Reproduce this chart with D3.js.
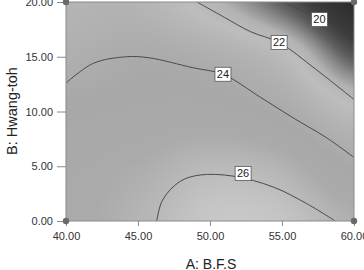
<!DOCTYPE html>
<html>
<head>
<meta charset="utf-8">
<script src="https://cdn.jsdelivr.net/npm/d3@7"></script>
<style>
  body { margin: 0; background: #fff; }
  svg { display: block; font-family: "Liberation Sans", Arial, sans-serif; }
</style>
</head>
<body>
<svg width="364" height="270"></svg>
<script>
// Factor ranges and tick values
const aTicks = [40, 45, 50, 55, 60];
const bTicks = [0, 5, 10, 15, 20];

const gridA = [40, 45, 50, 55, 60];
const gridB = [0, 5, 10, 15, 20];
const response = [
    [25.0, 25.7, 26.5, 26.4, 25.5],
    [24.9, 25.3, 25.9, 25.6, 24.2],
    [24.4, 24.6, 24.7, 24.05, 22.4],
    [23.5, 24.0, 23.6, 22.5, 19.9],
    [23.0, 23.0, 21.7, 20.0, 18.3]
];

// Contour lines, [A, B]
const contour20 = [[55.1, 20], [56.4, 19.2], [57.6, 18.4], [58.8, 16.9], [60, 15.5]];
const contour22 = [[49.1, 20], [51.0, 18.6], [52.8, 17.3], [54.8, 16.3], [57.4, 13.8], [60, 11.1]];
const contour24 = [[40, 12.6], [41.9, 14.4], [44.2, 15.0], [45.8, 14.9], [48.8, 14.0], [50.9, 13.4],
                   [53.5, 11.3], [55.8, 9.4], [58.1, 7.6], [60, 5.8]];
const contour26 = [[46.3, 0], [46.7, 1.9], [47.9, 3.6], [49.3, 4.2], [51.6, 4.1], [54.4, 3.1],
                   [56.7, 1.6], [58.7, 0]];
const contourLevels = [20, 22, 24, 26];
const labelPos = [[57.6, 18.4], [54.8, 16.3], [50.9, 13.4], [52.3, 4.35]];

var svg = d3.select("svg"),
    margin = {top: 2, right: 10, bottom: 49, left: 66},
    width = +svg.attr("width") - margin.left - margin.right,
    height = +svg.attr("height") - margin.top - margin.bottom,
    g = svg.append("g").attr("transform", "translate(" + margin.left + "," + margin.top + ")");

var x = d3.scaleLinear().domain([40, 60]).range([0, width]),
    y = d3.scaleLinear().domain([0, 20]).range([height, 0]);

// Grey map of the response (design-expert style, not monotonic)
var grey = d3.scaleLinear()
    .domain([18.3, 19.3, 20.0, 20.7, 21.4, 22.2, 23.2, 24.3, 25.2, 26.0, 26.8])
    .range(["#2c2c2c", "#3e3e3e", "#5c5c5c", "#8a8a8a", "#b2b2b2", "#bdbdbd",
            "#b2b2b2", "#a8a8a8", "#aaaaaa", "#bbbbbb", "#cecece"])
    .clamp(true);

// Cubic through the grid values
function cubic(p0, p1, p2, p3, t) {
    return p1 + 0.5 * t * (p2 - p0 + t * (2 * p0 - 5 * p1 + 4 * p2 - p3 + t * (3 * (p1 - p2) + p3 - p0)));
}
function sample(a, b) {
    var fx = (a - gridA[0]) / (gridA[1] - gridA[0]),
        fy = (b - gridB[0]) / (gridB[1] - gridB[0]),
        ix = Math.min(Math.floor(fx), gridA.length - 2),
        iy = Math.min(Math.floor(fy), gridB.length - 2),
        tx = fx - ix, ty = fy - iy;
    var cl = (v, n) => Math.max(0, Math.min(n - 1, v));
    var rows = [];
    for (var j = -1; j <= 2; j++) {
        var r = response[cl(iy + j, gridB.length)];
        rows.push(cubic(r[cl(ix - 1, 5)], r[cl(ix, 5)], r[cl(ix + 1, 5)], r[cl(ix + 2, 5)], tx));
    }
    return cubic(rows[0], rows[1], rows[2], rows[3], ty);
}

var canvas = document.createElement("canvas");
canvas.width = width; canvas.height = height;
var ctx = canvas.getContext("2d"),
    img = ctx.createImageData(width, height);
for (var py = 0; py < height; py++) {
    for (var px = 0; px < width; px++) {
        var c = d3.rgb(grey(sample(x.invert(px + 0.5), y.invert(py + 0.5)))),
            k = (py * width + px) * 4;
        img.data[k] = c.r; img.data[k + 1] = c.g; img.data[k + 2] = c.b; img.data[k + 3] = 255;
    }
}
ctx.putImageData(img, 0, 0);

g.append("image")
    .attr("width", width)
    .attr("height", height)
    .attr("href", canvas.toDataURL());

g.append("clipPath").attr("id", "plot")
    .append("rect").attr("width", width).attr("height", height);

// Contour lines
var line = d3.line()
    .curve(d3.curveCatmullRom)
    .x(function(d) { return x(d[0]); })
    .y(function(d) { return y(d[1]); });

g.append("g")
    .attr("clip-path", "url(#plot)")
    .selectAll("path")
    .data([contour20, contour22, contour24, contour26])
    .enter().append("path")
    .attr("d", line)
    .attr("fill", "none")
    .attr("stroke", "#4a4a4a")
    .attr("stroke-width", 1);

// Frame
g.append("rect")
    .attr("width", width)
    .attr("height", height)
    .attr("fill", "none")
    .attr("stroke", "#8a8a8a");

// Axes
var xAxis = g.append("g")
    .attr("transform", "translate(0," + height + ")")
    .call(d3.axisBottom(x).tickValues(aTicks).tickFormat(d3.format(".2f")).tickSize(5).tickPadding(6));
var yAxis = g.append("g")
    .call(d3.axisLeft(y).tickValues(bTicks).tickFormat(d3.format(".2f")).tickSize(9).tickPadding(4));
[xAxis, yAxis].forEach(function(a) {
    a.select(".domain").remove();
    a.selectAll("line").attr("stroke", "#8a8a8a");
    a.selectAll("text").attr("fill", "#333").style("font-size", "11px")
        .style("font-family", "'Liberation Sans', Arial, sans-serif");
});

// Corner design points
g.selectAll(".corner")
    .data([[40, 0], [60, 0], [40, 20], [60, 20]])
    .enter().append("circle")
    .attr("class", "corner")
    .attr("cx", function(d) { return x(d[0]); })
    .attr("cy", function(d) { return y(d[1]); })
    .attr("r", 3.2)
    .attr("fill", "#6a6a6a");

// Contour labels
var labels = g.selectAll(".lab")
    .data(contourLevels)
    .enter().append("g")
    .attr("class", "lab")
    .attr("transform", function(d, i) {
        return "translate(" + x(labelPos[i][0]) + "," + y(labelPos[i][1]) + ")";
    });
labels.append("rect")
    .attr("x", -8).attr("y", -7)
    .attr("width", 16).attr("height", 14)
    .attr("fill", "#fff")
    .attr("stroke", "#555")
    .attr("stroke-width", 0.8);
labels.append("text")
    .attr("text-anchor", "middle")
    .attr("dy", "0.36em")
    .style("font-size", "11px")
    .attr("fill", "#222")
    .text(function(d) { return d; });

// Axis titles
svg.append("text")
    .attr("x", margin.left + width / 2 + 1)
    .attr("y", 269)
    .attr("text-anchor", "middle")
    .style("font-size", "14px")
    .attr("fill", "#222")
    .text("A: B.F.S");

svg.append("text")
    .attr("transform", "translate(17,111) rotate(-90)")
    .attr("text-anchor", "middle")
    .style("font-size", "14.5px")
    .attr("fill", "#222")
    .text("B: Hwang-toh");
</script>
</body>
</html>
